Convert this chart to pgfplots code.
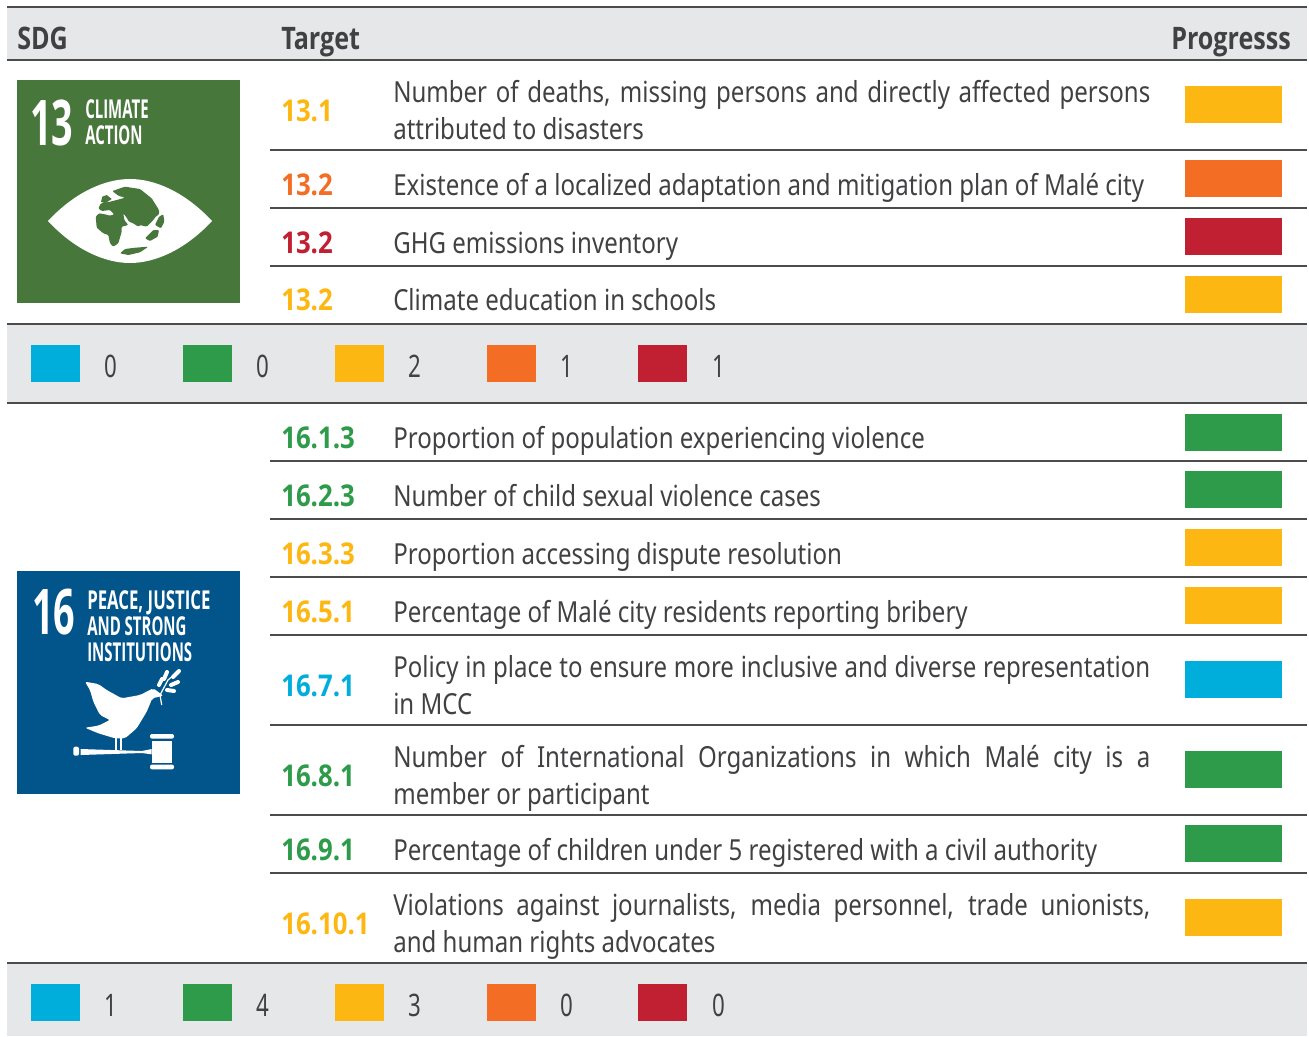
\documentclass[border=0pt]{standalone}
\usepackage{pgfplots}
\pgfplotsset{compat=1.18}
\usepackage{fontspec}
\setmainfont{Noto Sans}[FakeStretch=0.829]
\newfontfamily\hb{Open Sans}[FakeStretch=0.81]
\newfontfamily\tb{Open Sans}[FakeStretch=0.86]
\newfontfamily\icon{Open Sans}[FakeStretch=0.576]
\newfontfamily\iconw{Open Sans}[FakeStretch=0.645]
\newfontfamily\bignum{Open Sans}[FakeStretch=0.6]
\newfontfamily\num{Noto Sans}[FakeStretch=0.72]
\newlength\px \setlength\px{0.75pt}
\definecolor{cBlue}{HTML}{00AEDB}
\definecolor{cGreen}{HTML}{2E9B4A}
\definecolor{cYellow}{HTML}{FDB713}
\definecolor{cOrange}{HTML}{F36D25}
\definecolor{cRed}{HTML}{C12033}
\definecolor{cGrey}{HTML}{E6E7E9}
\definecolor{cText}{HTML}{414042}
\definecolor{cSdgA}{HTML}{48773C}
\definecolor{cSdgB}{HTML}{02558B}
\newcommand\fsz[1]{\fontsize{#1\px}{#1\px}\selectfont}
\newcommand\rect[5]{\addplot[fill=#1,draw=none,forget plot] coordinates {(#2,#3)(#4,#3)(#4,#5)(#2,#5)} -- cycle;}
\newcommand\progress[2]{\rect{#1}{1185}{#2}{1282}{\the\numexpr#2+37\relax}}
\newcommand\tgt[3]{\node[anchor=base west,inner sep=0pt,text=#1] at (281,#2) {\tb\bfseries\fsz{30}#3};}
\newcommand\txt[2]{\node[anchor=base west,inner sep=0pt,text=cText] at (393,#1) {\fsz{29}#2};}
\newcommand\jtxt[2]{\node[anchor=base west,inner sep=0pt,text=cText] at (393,#1) {\fsz{29}\makebox[757\px][s]{#2}};}
\newcommand\hl[2]{\draw[line width=1.5\px,color=black!70] (#1,#2) -- (1307,#2);}
\newcommand\legendrow[6]{%
 \rect{cBlue}{31}{#1}{80}{\the\numexpr#1+37\relax}
 \rect{cGreen}{183}{#1}{232}{\the\numexpr#1+37\relax}
 \rect{cYellow}{335}{#1}{384}{\the\numexpr#1+37\relax}
 \rect{cOrange}{487}{#1}{536}{\the\numexpr#1+37\relax}
 \rect{cRed}{638}{#1}{687}{\the\numexpr#1+37\relax}
 \node[anchor=base,inner sep=0pt,text=cText] at (111,#1+32) {\fsz{31}\num #2};
 \node[anchor=base,inner sep=0pt,text=cText] at (263,#1+32) {\fsz{31}\num #3};
 \node[anchor=base,inner sep=0pt,text=cText] at (415,#1+32) {\fsz{31}\num #4};
 \node[anchor=base,inner sep=0pt,text=cText] at (567,#1+32) {\fsz{31}\num #5};
 \node[anchor=base,inner sep=0pt,text=cText] at (719,#1+32) {\fsz{31}\num #6};
}
\begin{document}
\begin{tikzpicture}
\begin{axis}[width=1309\px,height=1036\px,scale only axis,xmin=0,xmax=1309,ymin=0,ymax=1036,y dir=reverse,hide axis,clip=false]
\path[use as bounding box] (0,0) rectangle (1309,1036);
% bands
\rect{cGrey}{7}{8}{1307}{60}
\rect{cGrey}{7}{324}{1307}{403}
\rect{cGrey}{7}{963}{1307}{1036}
% icons
\rect{cSdgA}{17}{80}{240}{303}
\rect{cSdgB}{17}{571}{240}{794}
% progress
\progress{cYellow}{86}
\progress{cOrange}{160}
\progress{cRed}{218}
\progress{cYellow}{276}
\progress{cGreen}{414}
\progress{cGreen}{471}
\progress{cYellow}{529}
\progress{cYellow}{587}
\progress{cBlue}{661}
\progress{cGreen}{751}
\progress{cGreen}{825}
\progress{cYellow}{899}
\legendrow{345}{0}{0}{2}{1}{1}
\legendrow{984}{1}{4}{3}{0}{0}
% rules
\hl{7}{7}\hl{7}{60}\hl{7}{324}\hl{7}{403}\hl{7}{963}
\hl{270}{150}\hl{270}{208}\hl{270}{266}
\hl{270}{461}\hl{270}{519}\hl{270}{577}\hl{270}{635}\hl{270}{725}\hl{270}{815}\hl{270}{873}
% header
\node[anchor=base west,inner sep=0pt,text=cText] at (17,49) {\hb\bfseries\fsz{31}SDG};
\node[anchor=base west,inner sep=0pt,text=cText] at (281,49) {\hb\bfseries\fsz{31}Target};
\node[anchor=base west,inner sep=0pt,text=cText] at (1171,49) {\hb\bfseries\fsz{31}Progresss};
% targets
\tgt{cYellow}{121}{13.1}
\tgt{cOrange}{195}{13.2}
\tgt{cRed}{253}{13.2}
\tgt{cYellow}{310}{13.2}
\tgt{cGreen}{448}{16.1.3}
\tgt{cGreen}{506}{16.2.3}
\tgt{cYellow}{564}{16.3.3}
\tgt{cYellow}{622}{16.5.1}
\tgt{cBlue}{696}{16.7.1}
\tgt{cGreen}{786}{16.8.1}
\tgt{cGreen}{860}{16.9.1}
\tgt{cYellow}{934}{16.10.1}
% descriptions
\jtxt{102}{Number of deaths, missing persons and directly affected persons}
\txt{139}{attributed to disasters}
\txt{195}{Existence of a localized adaptation and mitigation plan of Malé city}
\txt{253}{GHG emissions inventory}
\txt{310}{Climate education in schools}
\txt{448}{Proportion of population experiencing violence}
\txt{506}{Number of child sexual violence cases}
\txt{564}{Proportion accessing dispute resolution}
\txt{622}{Percentage of Malé city residents reporting bribery}
\jtxt{677}{Policy in place to ensure more inclusive and diverse representation}
\txt{714}{in MCC}
\jtxt{767}{Number of International Organizations in which Malé city is a}
\txt{804}{member or participant}
\txt{860}{Percentage of children under 5 registered with a civil authority}
\jtxt{915}{Violations against journalists, media personnel, trade unionists,}
\txt{952}{and human rights advocates}
% icon 13
\node[anchor=base west,inner sep=0pt,text=white] at (30,145) {\bignum\bfseries\fsz{63}13};
\node[anchor=base west,inner sep=0pt,text=white] at (85,118) {\icon\bfseries\fsz{26}CLIMATE};
\node[anchor=base west,inner sep=0pt,text=white] at (85,144) {\icon\bfseries\fsz{26}ACTION};
% eye
\fill[white] (48,221) .. controls (75,192) and (105,179) .. (130,179) .. controls (155,179) and (185,192) .. (212,221) .. controls (185,250) and (155,263) .. (130,263) .. controls (105,263) and (75,250) .. (48,221) -- cycle;
\fill[cSdgA,rounded corners=1\px] (112.3,191) -- (125,186.7) -- (140,189) -- (151.7,198.3) -- (159,210) -- (159,214.3) -- (155.7,216.7) -- (153.3,220) -- (150,223.3) -- (146.7,226.7) -- (140,225) -- (138.3,226.7) -- (133.3,223.3) -- (129,221.7) -- (126.7,217.7) -- (123.3,213.3) -- (124.3,220) -- (128.3,225) -- (121.7,226.7) -- (121.7,231.7) -- (118.3,243.3) -- (113.3,246.7) -- (110,243.3) -- (108.3,235) -- (103.3,233.3) -- (96.7,227.7) -- (95.7,216.7) -- (99,213.3) -- (105,214.3) -- (110,215.7) -- (114.3,214.3) -- (110,210) -- (101.7,211) -- (98.3,208.3) -- (101,203.3) -- (110,201.7) -- (116.7,200) -- (125,197.7) -- (118.3,195.7) -- cycle;
\fill[cSdgA] (102.3,196.7) -- (106.7,195) -- (111.7,199) -- (105,203.3) -- (101,201.7) -- cycle;
\fill[cSdgA,rounded corners=1\px] (145,238.3) -- (153.3,230) -- (159,230) -- (157.7,236.7) -- (150,241) -- cycle;
\fill[cSdgA,rounded corners=1\px] (120,253.3) -- (125,249) -- (135,247.7) -- (148.3,246.7) -- (140,252.3) -- (128.3,255) -- cycle;
\fill[cSdgA,rounded corners=1\px] (159,216.7) -- (163.3,214.3) -- (164.3,221.7) -- (161,228.3) -- (155,225) -- cycle;
% icon 16
\node[anchor=base west,inner sep=0pt,text=white] at (32,634) {\bignum\bfseries\fsz{63}16};
\node[anchor=base west,inner sep=0pt,text=white] at (87,609) {\iconw\bfseries\fsz{26}PEACE, JUSTICE};
\node[anchor=base west,inner sep=0pt,text=white] at (87,635) {\icon\bfseries\fsz{26}AND STRONG};
\node[anchor=base west,inner sep=0pt,text=white] at (87,661) {\icon\bfseries\fsz{26}INSTITUTIONS};
% dove
\fill[white,rounded corners=2\px] (85,681.7) -- (98.3,684) -- (106.7,690) -- (121.7,698.3) -- (140,695) -- (153.3,688.3) -- (163.3,695.7) -- (152.3,698.3) -- (146.7,711.7) -- (136.7,728.3) -- (125,738.3) -- (115,738.3) -- (98.3,733.3) -- (85,727.7) -- (98.3,725.7) -- (110,720) -- (100,715) -- (93.3,701.7) -- (90,690) -- cycle;
\fill[white] (115,736) rectangle (117,750);
\fill[white] (120,736) rectangle (122.3,750);
\draw[white,line width=1.2\px] (160,695) -- (168,680) -- (176,673);
\draw[white,line width=1.2\px] (160,695) -- (161.7,705);
\draw[white,line width=4\px,line cap=round] (159,685) -- (162,679);
\draw[white,line width=4\px,line cap=round] (164,679) -- (167,672);
\draw[white,line width=4\px,line cap=round] (173,677) -- (179,671);
\draw[white,line width=4\px,line cap=round] (171,685) -- (178,682);
\draw[white,line width=4\px,line cap=round] (167,690) -- (174,691);
% gavel
\fill[white,rounded corners=2\px] (73.3,746.7) rectangle (79,755.7);
\fill[white] (80.7,749) -- (141.7,751) -- (151.7,749) -- (151.7,754.3) -- (141.7,753) -- (80.7,755) -- cycle;
\fill[white] (151.7,741) rectangle (172.3,763.3);
\fill[white,rounded corners=2\px] (150,734) rectangle (174,738.6);
\fill[white,rounded corners=2\px] (150,764.6) rectangle (174,769.3);
\end{axis}
\end{tikzpicture}
\end{document}
